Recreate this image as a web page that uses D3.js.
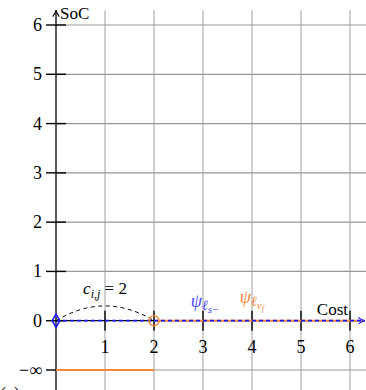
<!DOCTYPE html>
<meta charset="utf-8">
<script src="https://d3js.org/d3.v7.min.js"></script>
<style>
body { margin: 0; background: #fff; }
</style>
<div id="chart"></div>
<script>
// values
var xTicks = [1, 2, 3, 4, 5, 6];
var yTicks = [0, 1, 2, 3, 4, 5, 6];
var yTickLabels = ["0", "1", "2", "3", "4", "5", "6"];
var negInf = -1;               // row used for -infinity
var vertices = [{name: "s", cost: 0, soc: 0}, {name: "vf", cost: 2, soc: 0}];
var edgeCost = 2;
var blueProfile = [[0, 0], [6.3, 0]];
var orangeProfile = [[2, 0], [6.3, 0]];
var orangeInf = [[0, negInf], [2, negInf]];

var W = 366, H = 390;
var blue = "#1a1aff", orange = "#f5883c";
var serif = "'Liberation Serif', 'DejaVu Serif', serif";

var x = d3.scaleLinear().domain([0, 6]).range([56, 350]);
var y = d3.scaleLinear().domain([-1, 6]).range([370, 25]);

var svg = d3.select("#chart").append("svg")
  .attr("width", W).attr("height", H)
  .style("font-family", serif);

// grid
svg.append("g").selectAll("line").data(xTicks).enter().append("line")
  .attr("x1", function(d) { return x(d); }).attr("x2", function(d) { return x(d); })
  .attr("y1", y(6.3)).attr("y2", H)
  .attr("stroke", "#b0b0b0").attr("stroke-width", 1.2);
svg.append("g").selectAll("line").data(yTicks.slice(1).concat([negInf])).enter().append("line")
  .attr("x1", x(0)).attr("x2", W)
  .attr("y1", function(d) { return y(d); }).attr("y2", function(d) { return y(d); })
  .attr("stroke", "#999").attr("stroke-width", 1.2);

// axes
var defs = svg.append("defs");
function arrow(id, col) {
  defs.append("marker").attr("id", id).attr("viewBox", "0 0 10 10")
    .attr("refX", 9).attr("refY", 5).attr("markerWidth", 8).attr("markerHeight", 8)
    .attr("markerUnits", "userSpaceOnUse").attr("orient", "auto")
    .append("path").attr("d", "M1,1 Q5,4 9,5 Q5,6 1,9")
    .attr("fill", "none").attr("stroke", col).attr("stroke-width", 1.3);
}
arrow("ab", "#000");
arrow("abl", blue);

svg.append("line").attr("x1", x(0)).attr("x2", x(0))
  .attr("y1", H).attr("y2", y(6.3))
  .attr("stroke", "#000").attr("stroke-width", 1.3).attr("marker-end", "url(#ab)");
svg.append("line").attr("x1", x(0)).attr("x2", x(6.3))
  .attr("y1", y(0)).attr("y2", y(0))
  .attr("stroke", "#000").attr("stroke-width", 1.3);

// ticks
svg.append("g").selectAll("line").data(yTicks.concat([negInf])).enter().append("line")
  .attr("x1", x(0) - 10).attr("x2", x(0) + 10)
  .attr("y1", function(d) { return y(d); }).attr("y2", function(d) { return y(d); })
  .attr("stroke", "#000").attr("stroke-width", 1.4);
svg.append("g").selectAll("line").data(xTicks).enter().append("line")
  .attr("x1", function(d) { return x(d); }).attr("x2", function(d) { return x(d); })
  .attr("y1", y(0) - 10).attr("y2", y(0) + 10)
  .attr("stroke", "#000").attr("stroke-width", 1.4);

svg.append("g").selectAll("text").data(yTicks).enter().append("text")
  .attr("x", x(0) - 14).attr("y", function(d) { return y(d) + 6; })
  .attr("text-anchor", "end").attr("font-size", 18)
  .text(function(d, i) { return yTickLabels[i]; });
svg.append("text").attr("x", x(0) - 14).attr("y", y(negInf) + 6)
  .attr("text-anchor", "end").attr("font-size", 18).text("−∞");
svg.append("g").selectAll("text").data(xTicks).enter().append("text")
  .attr("x", function(d) { return x(d); }).attr("y", y(0) + 32)
  .attr("text-anchor", "middle").attr("font-size", 18)
  .text(function(d) { return d; });

svg.append("text").attr("x", x(0) + 4).attr("y", 19).attr("font-size", 17).text("SoC");
svg.append("text").attr("x", x(6) - 2).attr("y", y(0) - 6)
  .attr("text-anchor", "end").attr("font-size", 17).text("Cost");

// profiles
var line = d3.line().x(function(d) { return x(d[0]); }).y(function(d) { return y(d[1]); });
svg.append("path").attr("d", line(orangeInf))
  .attr("stroke", orange).attr("stroke-width", 2.2).attr("fill", "none");
svg.append("path").attr("d", line(orangeProfile))
  .attr("stroke", orange).attr("stroke-width", 2).attr("fill", "none");
svg.append("path").attr("d", line(blueProfile))
  .attr("stroke", blue).attr("stroke-width", 1.8).attr("fill", "none")
  .attr("stroke-dasharray", "4,3").attr("marker-end", "url(#abl)");

// edge
var a = vertices[0], b = vertices[1];
svg.append("path")
  .attr("d", "M" + x(a.cost) + "," + y(a.soc) + " Q" + x((a.cost + b.cost) / 2) + "," + y(0.6) +
    " " + x(b.cost) + "," + y(b.soc))
  .attr("fill", "none").attr("stroke", "#000").attr("stroke-width", 1)
  .attr("stroke-dasharray", "4,3.5");
var lab = svg.append("text").attr("x", x(1)).attr("y", y(0.55))
  .attr("text-anchor", "middle").attr("font-size", 17);
lab.append("tspan").attr("font-style", "italic").text("c");
lab.append("tspan").attr("font-style", "italic").attr("font-size", 12).attr("dy", 4).text("i,j");
lab.append("tspan").attr("dy", -4).text(" = " + edgeCost);

// vertices
svg.append("path")
  .attr("d", d3.symbol().type(d3.symbolDiamond).size(50)())
  .attr("transform", "translate(" + x(a.cost) + "," + y(a.soc) + ")")
  .attr("fill", "none").attr("stroke", blue).attr("stroke-width", 1.6);
svg.append("circle").attr("cx", x(b.cost)).attr("cy", y(b.soc)).attr("r", 5)
  .attr("fill", "none").attr("stroke", orange).attr("stroke-width", 1.4);

// psi labels
var p1 = svg.append("text").attr("x", x(2.75)).attr("y", y(0) - 14)
  .attr("font-size", 18).attr("fill", "#4a4aff").attr("font-style", "italic");
p1.append("tspan").text("ψ");
p1.append("tspan").attr("font-size", 14).attr("dy", 3).text("ℓ");
p1.append("tspan").attr("font-size", 11).attr("dy", 3).text("s−");
var p2 = svg.append("text").attr("x", x(3.75)).attr("y", y(0) - 18)
  .attr("font-size", 18).attr("fill", orange).attr("font-style", "italic");
p2.append("tspan").text("ψ");
p2.append("tspan").attr("font-size", 14).attr("dy", 3).text("ℓ");
p2.append("tspan").attr("font-size", 11).attr("dy", 3).text("v");
p2.append("tspan").attr("font-size", 8).attr("dy", 2).text("f");

svg.append("text").attr("x", 0).attr("y", 400).attr("font-size", 18).text("(a)");
</script>
